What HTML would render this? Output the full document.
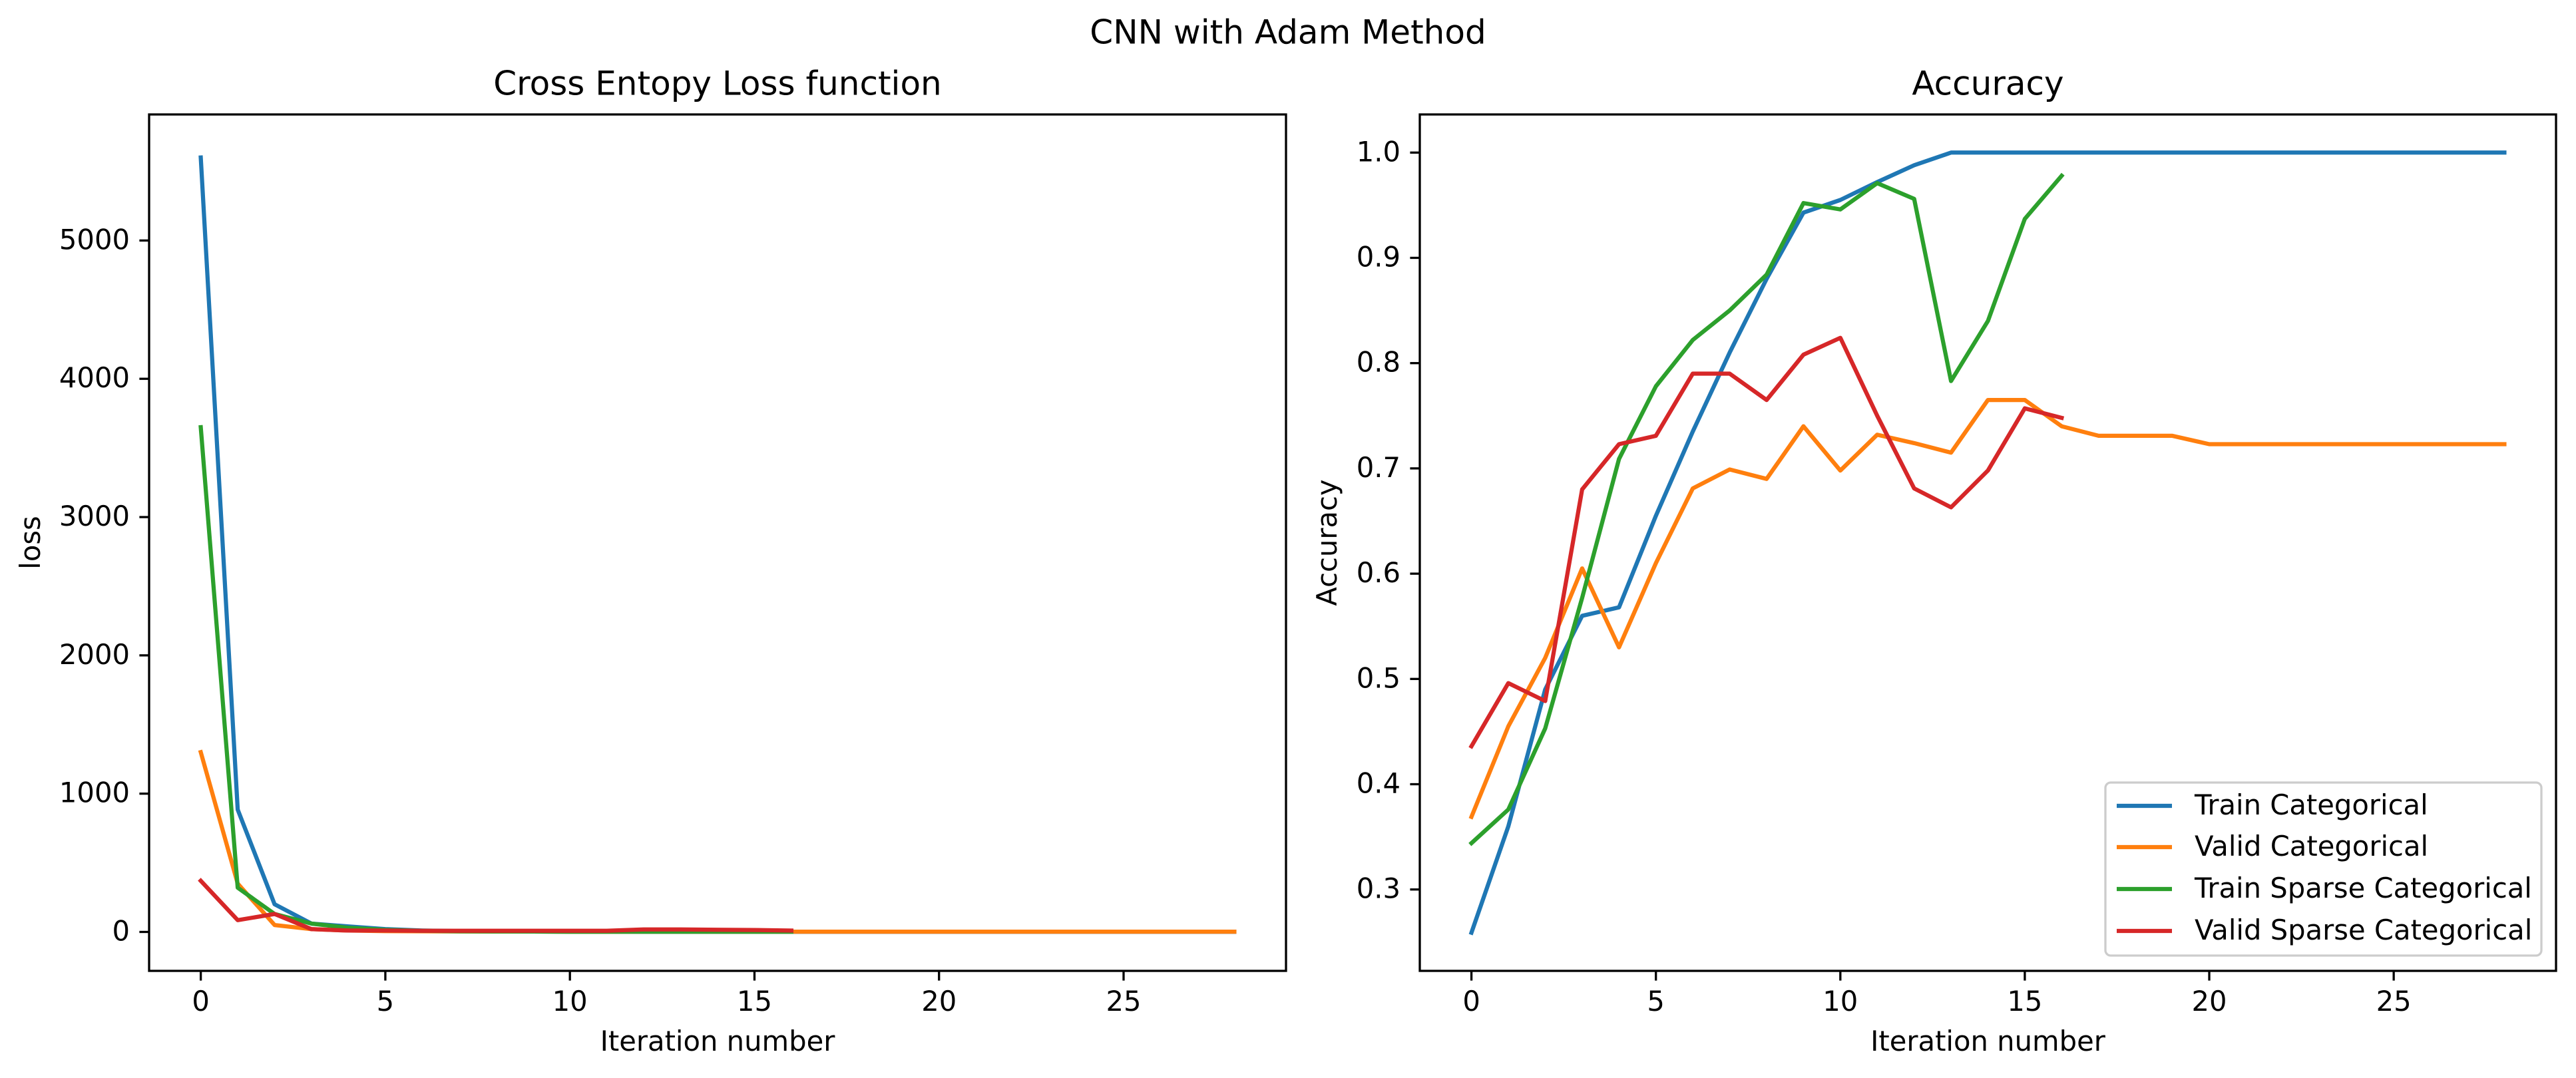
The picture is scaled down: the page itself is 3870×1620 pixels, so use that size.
<!DOCTYPE html>
<html><head><meta charset="utf-8"><style>
html,body{margin:0;padding:0;background:#fff;}
svg{display:block;font-family:"DejaVu Sans","Liberation Sans",sans-serif;}
</style></head><body>
<svg id="fig" width="3870" height="1620" viewBox="0 0 3870 1620" xmlns="http://www.w3.org/2000/svg">
<rect width="3870" height="1620" fill="#fff"/>
<text x="1935" y="52" font-size="50" text-anchor="middle" dominant-baseline="middle">CNN with Adam Method</text>
<g id="left"></g>
<g id="right"></g>
</svg>
<script>
const iterations = Array.from({length:29},(_,i)=>i);
const lossTrainCat = [5600,885,200,60,40,20,10,6,5,3,2,2,1,1,1,1,1,1,1,1,1,1,1,1,1,1,1,1,1];
const lossValidCat = [1300,350,50,20,10,6,5,4,3,3,2,2,2,2,2,2,2,2,2,2,2,2,2,2,2,2,2,2,2];
const lossTrainSparse = [3650,320,130,60,30,15,8,5,4,3,2,2,2,2,2,2,2];
const lossValidSparse = [370,85,130,20,10,10,8,8,8,8,8,8,18,18,16,14,10];
const accTrainCat = [0.259,0.36,0.49,0.56,0.568,0.655,0.735,0.81,0.88,0.943,0.955,0.972,0.988,1,1,1,1,1,1,1,1,1,1,1,1,1,1,1,1];
const accValidCat = [0.369,0.455,0.52,0.605,0.53,0.61,0.681,0.699,0.69,0.74,0.698,0.732,0.724,0.715,0.765,0.765,0.74,0.731,0.731,0.731,0.723,0.723,0.723,0.723,0.723,0.723,0.723,0.723,0.723];
const accTrainSparse = [0.344,0.376,0.453,0.577,0.709,0.778,0.822,0.85,0.884,0.952,0.946,0.971,0.956,0.783,0.84,0.937,0.978];
const accValidSparse = [0.436,0.496,0.479,0.68,0.723,0.731,0.79,0.79,0.765,0.808,0.824,0.75,0.681,0.663,0.698,0.757,0.748];
const xTicks = [0,5,10,15,20,25];
const lossTicks = [0,1000,2000,3000,4000,5000];
const accTicks = [0.3,0.4,0.5,0.6,0.7,0.8,0.9,1.0];
const accTickLabels = ["0.3","0.4","0.5","0.6","0.7","0.8","0.9","1.0"];
const seriesNames = ["Train Categorical","Valid Categorical","Train Sparse Categorical","Valid Sparse Categorical"];
const colors = ["#1f77b4","#ff7f0e","#2ca02c","#d62728"];

const NS="http://www.w3.org/2000/svg";
function mk(parent,tag,attrs,text){const e=document.createElementNS(NS,tag);for(const k in attrs)e.setAttribute(k,attrs[k]);if(text!==undefined)e.textContent=text;parent.appendChild(e);return e;}

function drawAxes(g,box,xr,yr,yt,ytl,title,ylabel,series,names){
  const sx=v=>box.x0+(v-xr[0])/(xr[1]-xr[0])*(box.x1-box.x0);
  const sy=v=>box.y1-(v-yr[0])/(yr[1]-yr[0])*(box.y1-box.y0);
  series.forEach((s,i)=>{
    const pts=s.map((v,j)=>sx(iterations[j]).toFixed(1)+","+sy(v).toFixed(1)).join(" ");
    const p=mk(g,"polyline",{points:pts,fill:"none",stroke:colors[i],"stroke-width":6.25,"stroke-linejoin":"round","stroke-linecap":"square"});
    
    
  });
  const r=mk(g,"rect",{x:box.x0,y:box.y0,width:box.x1-box.x0,height:box.y1-box.y0,fill:"none",stroke:"#000","stroke-width":3.3});
  
  
  xTicks.forEach(t=>{
    const x=sx(t);
    const l=mk(g,"line",{x1:x,x2:x,y1:box.y1,y2:box.y1+14.6,stroke:"#000","stroke-width":3.3});
    
    
    const tx=mk(g,"text",{x:x,y:box.y1+49,"font-size":41.7,"text-anchor":"middle","dominant-baseline":"middle"},String(t));
    
    
  });
  yt.forEach((t,i)=>{
    const y=sy(t);
    const l=mk(g,"line",{x1:box.x0-14.6,x2:box.x0,y1:y,y2:y,stroke:"#000","stroke-width":3.3});
    
    
    const tx=mk(g,"text",{x:box.x0-29,y:y+2,"font-size":41.7,"text-anchor":"end","dominant-baseline":"middle"},ytl[i]);
    
    
  });
  const cx=(box.x0+box.x1)/2;
  const tt=mk(g,"text",{x:cx,y:129,"font-size":50,"text-anchor":"middle","dominant-baseline":"middle"},title);
  
  
  const xl=mk(g,"text",{x:cx,y:1568,"font-size":41.7,"text-anchor":"middle","dominant-baseline":"middle"},"Iteration number");
  
  
  const ly=(box.y0+box.y1)/2, lx=box.x0-ylabel.off;
  const yl=mk(g,"text",{x:lx,y:ly,"font-size":41.7,"text-anchor":"middle","dominant-baseline":"middle",transform:`rotate(-90 ${lx} ${ly})`},ylabel.text);
  
  
}

const L=document.getElementById("left"), R=document.getElementById("right");
drawAxes(L,{x0:224,x1:1932,y0:172,y1:1459},[-1.4,29.4],[-281.5,5911.5],lossTicks,lossTicks.map(String),"Cross Entopy Loss function",{text:"loss",off:175},[lossTrainCat,lossValidCat,lossTrainSparse,lossValidSparse],seriesNames);
drawAxes(R,{x0:2133,x1:3840,y0:172,y1:1459},[-1.4,29.4],[1-(1459-229.3)/1582,1+(229.3-172)/1582],accTicks,accTickLabels,"Accuracy",{text:"Accuracy",off:136},[accTrainCat,accValidCat,accTrainSparse,accValidSparse],seriesNames);

const lg=mk(R,"g",{});


mk(lg,"rect",{x:3163,y:1176,width:655,height:260,rx:8,fill:"#fff","fill-opacity":0.8,stroke:"#cccccc","stroke-width":3.3});
const rows=[1211,1273,1336,1399];
seriesNames.forEach((n,i)=>{
  const e=mk(lg,"g",{});
  
  
  mk(e,"line",{x1:3180,x2:3263,y1:rows[i],y2:rows[i],stroke:colors[i],"stroke-width":6.25});
  mk(e,"text",{x:3297,y:rows[i]+2,"font-size":41.7,"dominant-baseline":"middle"},n);
});
</script>
</body></html>
